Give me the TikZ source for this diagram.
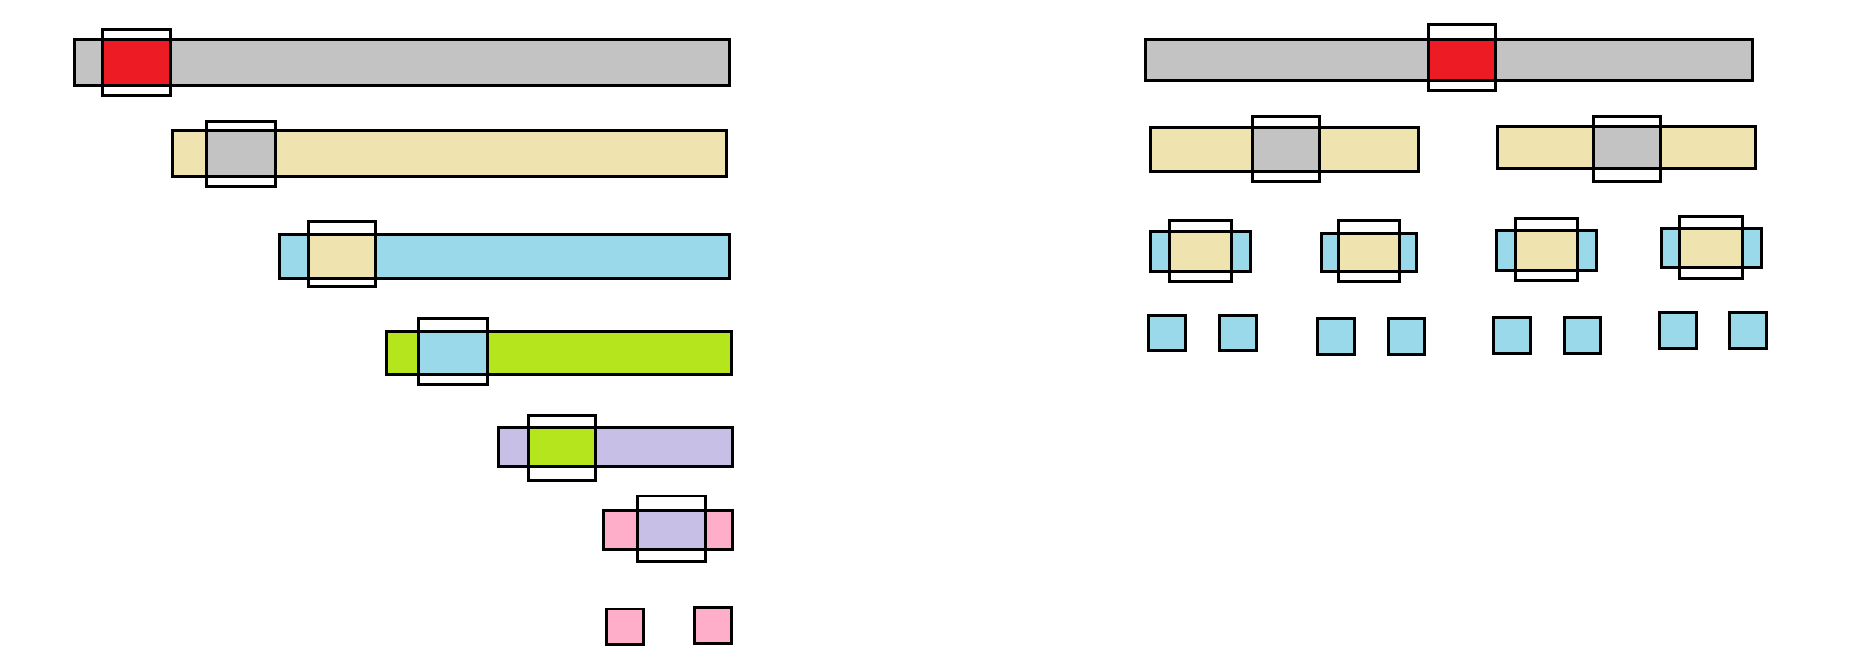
\documentclass[tikz,border=0pt]{standalone}
\usepackage{tikz}

\definecolor{cellgray}{RGB}{195,195,195}
\definecolor{cellred}{RGB}{237,28,36}
\definecolor{cellbeige}{RGB}{239,228,176}
\definecolor{cellblue}{RGB}{153,217,234}
\definecolor{cellgreen}{RGB}{181,230,29}
\definecolor{cellpurple}{RGB}{200,191,231}
\definecolor{cellpink}{RGB}{255,174,201}

\tikzset{outline/.style={
  draw=black,
  line width=0.85pt,
  }
  }

\begin{document}
\begin{tikzpicture}[x=0.011894cm, y=-0.011894cm]
      \useasboundingbox (0,0) rectangle (1568,555);
      % bars with the pivot box on them
      \foreach \bc/\ic/\xa/\ya/\xb/\yb/\sa/\ta/\sb/\tb in {
          cellgray/cellred/63/33/613/72/86/25/143/80,
          cellbeige/cellgray/145/110/611/148/174/102/232/157,
          cellblue/cellbeige/235/197/613/234/259/186/316/241,
          cellgreen/cellblue/325/279/615/315/352/268/410/323,
          cellpurple/cellgreen/419/359/616/392/444/349/501/404,
          cellpink/cellpurple/507/429/616/462/536/417/593/472,
          cellgray/cellred/963/33/1473/68/1201/21/1257/76,
          cellbeige/cellgray/967/107/1193/144/1053/98/1109/153,
          cellbeige/cellgray/1259/106/1476/142/1340/98/1396/153,
          cellblue/cellbeige/967/195/1051/228/983/185/1035/237,
          cellblue/cellbeige/1111/196/1191/228/1125/185/1177/237,
          cellblue/cellbeige/1258/194/1342/227/1274/184/1326/236,
          cellblue/cellbeige/1397/192/1481/225/1412/182/1465/234} {
        \fill[\bc] (\xa,\ya) rectangle (\xb,\yb);
        \fill[\ic] (\sa,\ya) rectangle (\sb,\yb);
        \draw[outline] (\xa,\ya) rectangle (\xb,\yb);
        \draw[outline] (\sa,\ta) rectangle (\sb,\tb);
      }
      % single cells
      \foreach \c/\xa/\ya/\xb/\yb in {
          cellpink/510/512/541/542, cellpink/584/511/615/541,
          cellblue/966/265/997/295, cellblue/1025/265/1056/295,
          cellblue/1108/268/1139/298, cellblue/1167/268/1198/298,
          cellblue/1256/267/1287/297, cellblue/1315/267/1346/297,
          cellblue/1395/263/1426/293, cellblue/1454/263/1485/293} {
        \filldraw[outline, fill=\c] (\xa,\ya) rectangle (\xb,\yb);
      }
    \end{tikzpicture}
\end{document}
